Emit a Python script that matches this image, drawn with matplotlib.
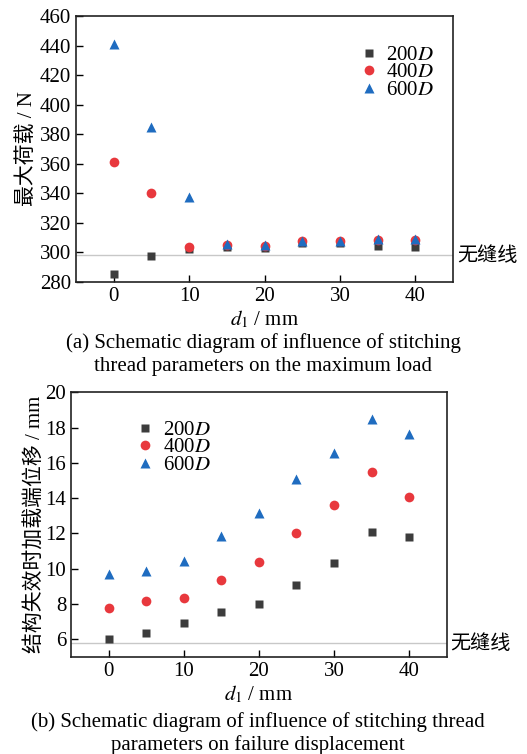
import numpy as np
import matplotlib
matplotlib.use('Agg')
import matplotlib.pyplot as plt

plt.rcParams['font.family'] = ['Liberation Serif', 'Noto Sans CJK SC']
plt.rcParams['mathtext.fontset'] = 'stix'

# Данные
d1 = [0, 5, 10, 15, 20, 25, 30, 35, 40]
series = ['200$D$', '400$D$', '600$D$']

# (a) максимальная нагрузка, N
load_200 = [285.2, 297.8, 302.0, 303.5, 303.0, 306.5, 306.5, 304.6, 303.7]
load_400 = [361.0, 340.2, 304.0, 305.0, 304.5, 307.5, 307.5, 308.5, 308.5]
load_600 = [441.3, 385.0, 337.5, 305.5, 305.0, 308.0, 308.0, 309.0, 309.0]
load_noseam = 298.0

# (b) перемещение при разрушении, mm
disp_200 = [6.00, 6.34, 6.91, 7.53, 7.97, 9.06, 10.29, 12.05, 11.78]
disp_400 = [7.74, 8.14, 8.31, 9.38, 10.40, 12.03, 13.61, 15.47, 14.07]
disp_600 = [9.70, 9.85, 10.44, 11.86, 13.16, 15.07, 16.58, 18.47, 17.66]
disp_noseam = 5.77

colors = ['#3c3c3c', '#e8383d', '#1f6cc0']
markers = ['s', 'o', '^']
msizes = [6, 7, 7.5]

fig = plt.figure(figsize=(5.27, 7.54), dpi=100)
ax1 = fig.add_axes([0.1442, 0.626, 0.7154, 0.3528])
ax2 = fig.add_axes([0.1347, 0.129, 0.713, 0.3507])


def draw(ax, data, noseam, ylim, yticks):
    ax.axhline(noseam, color='#c8c8c8', lw=1, zorder=1)
    for y, c, m, s, lab in zip(data, colors, markers, msizes, series):
        ax.plot(d1, y, ls='none', marker=m, ms=s, color=c, mec='none',
                label=lab, zorder=3)
    ax.set_xlim(-5, 45)
    ax.set_ylim(*ylim)
    ax.set_xticks([0, 10, 20, 30, 40])
    ax.set_yticks(yticks)
    ax.tick_params(direction='in', length=5, width=1, labelsize=15)
    for sp in ax.spines.values():
        sp.set_linewidth(1.2)
        sp.set_color('#222222')
    ax.set_xlabel('$d_1$ / mm', fontsize=15, labelpad=2)


draw(ax1, [load_200, load_400, load_600], load_noseam, (280, 460),
     np.arange(280, 461, 20))
ax1.set_ylabel('最大荷载 / N', fontsize=15, labelpad=2)
ax1.legend(loc='upper right', bbox_to_anchor=(1.0, 0.96), frameon=False,
           fontsize=15, handletextpad=0.35, labelspacing=-0.1,
           handlelength=1.0)
ax1.text(1.01, load_noseam, '无缝线', transform=ax1.get_yaxis_transform(),
         fontsize=14.5, va='center', ha='left', family='Noto Sans CJK SC')

draw(ax2, [disp_200, disp_400, disp_600], disp_noseam, (5, 20),
     [6, 8, 10, 12, 14, 16, 18, 20])
ax2.set_ylabel('结构失效时加载端位移 / mm', fontsize=15, labelpad=0)
ax2.legend(loc='upper left', bbox_to_anchor=(0.12, 0.965), frameon=False,
           fontsize=15, handletextpad=0.35, labelspacing=-0.1,
           handlelength=1.0)
ax2.text(1.01, disp_noseam, '无缝线', transform=ax2.get_yaxis_transform(),
         fontsize=14.5, va='center', ha='left', family='Noto Sans CJK SC')

fig.text(0.5, 1 - 343 / 754, '(a) Schematic diagram of influence of stitching',
         ha='center', va='center', fontsize=15)
fig.text(0.5, 1 - 367 / 754, 'thread parameters on the maximum load',
         ha='center', va='center', fontsize=15)
fig.text(0.49, 1 - 722 / 754, '(b) Schematic diagram of influence of stitching thread',
         ha='center', va='center', fontsize=15)
fig.text(0.49, 1 - 745 / 754, 'parameters on failure displacement',
         ha='center', va='center', fontsize=15)

fig.savefig('out.png', dpi=100)
